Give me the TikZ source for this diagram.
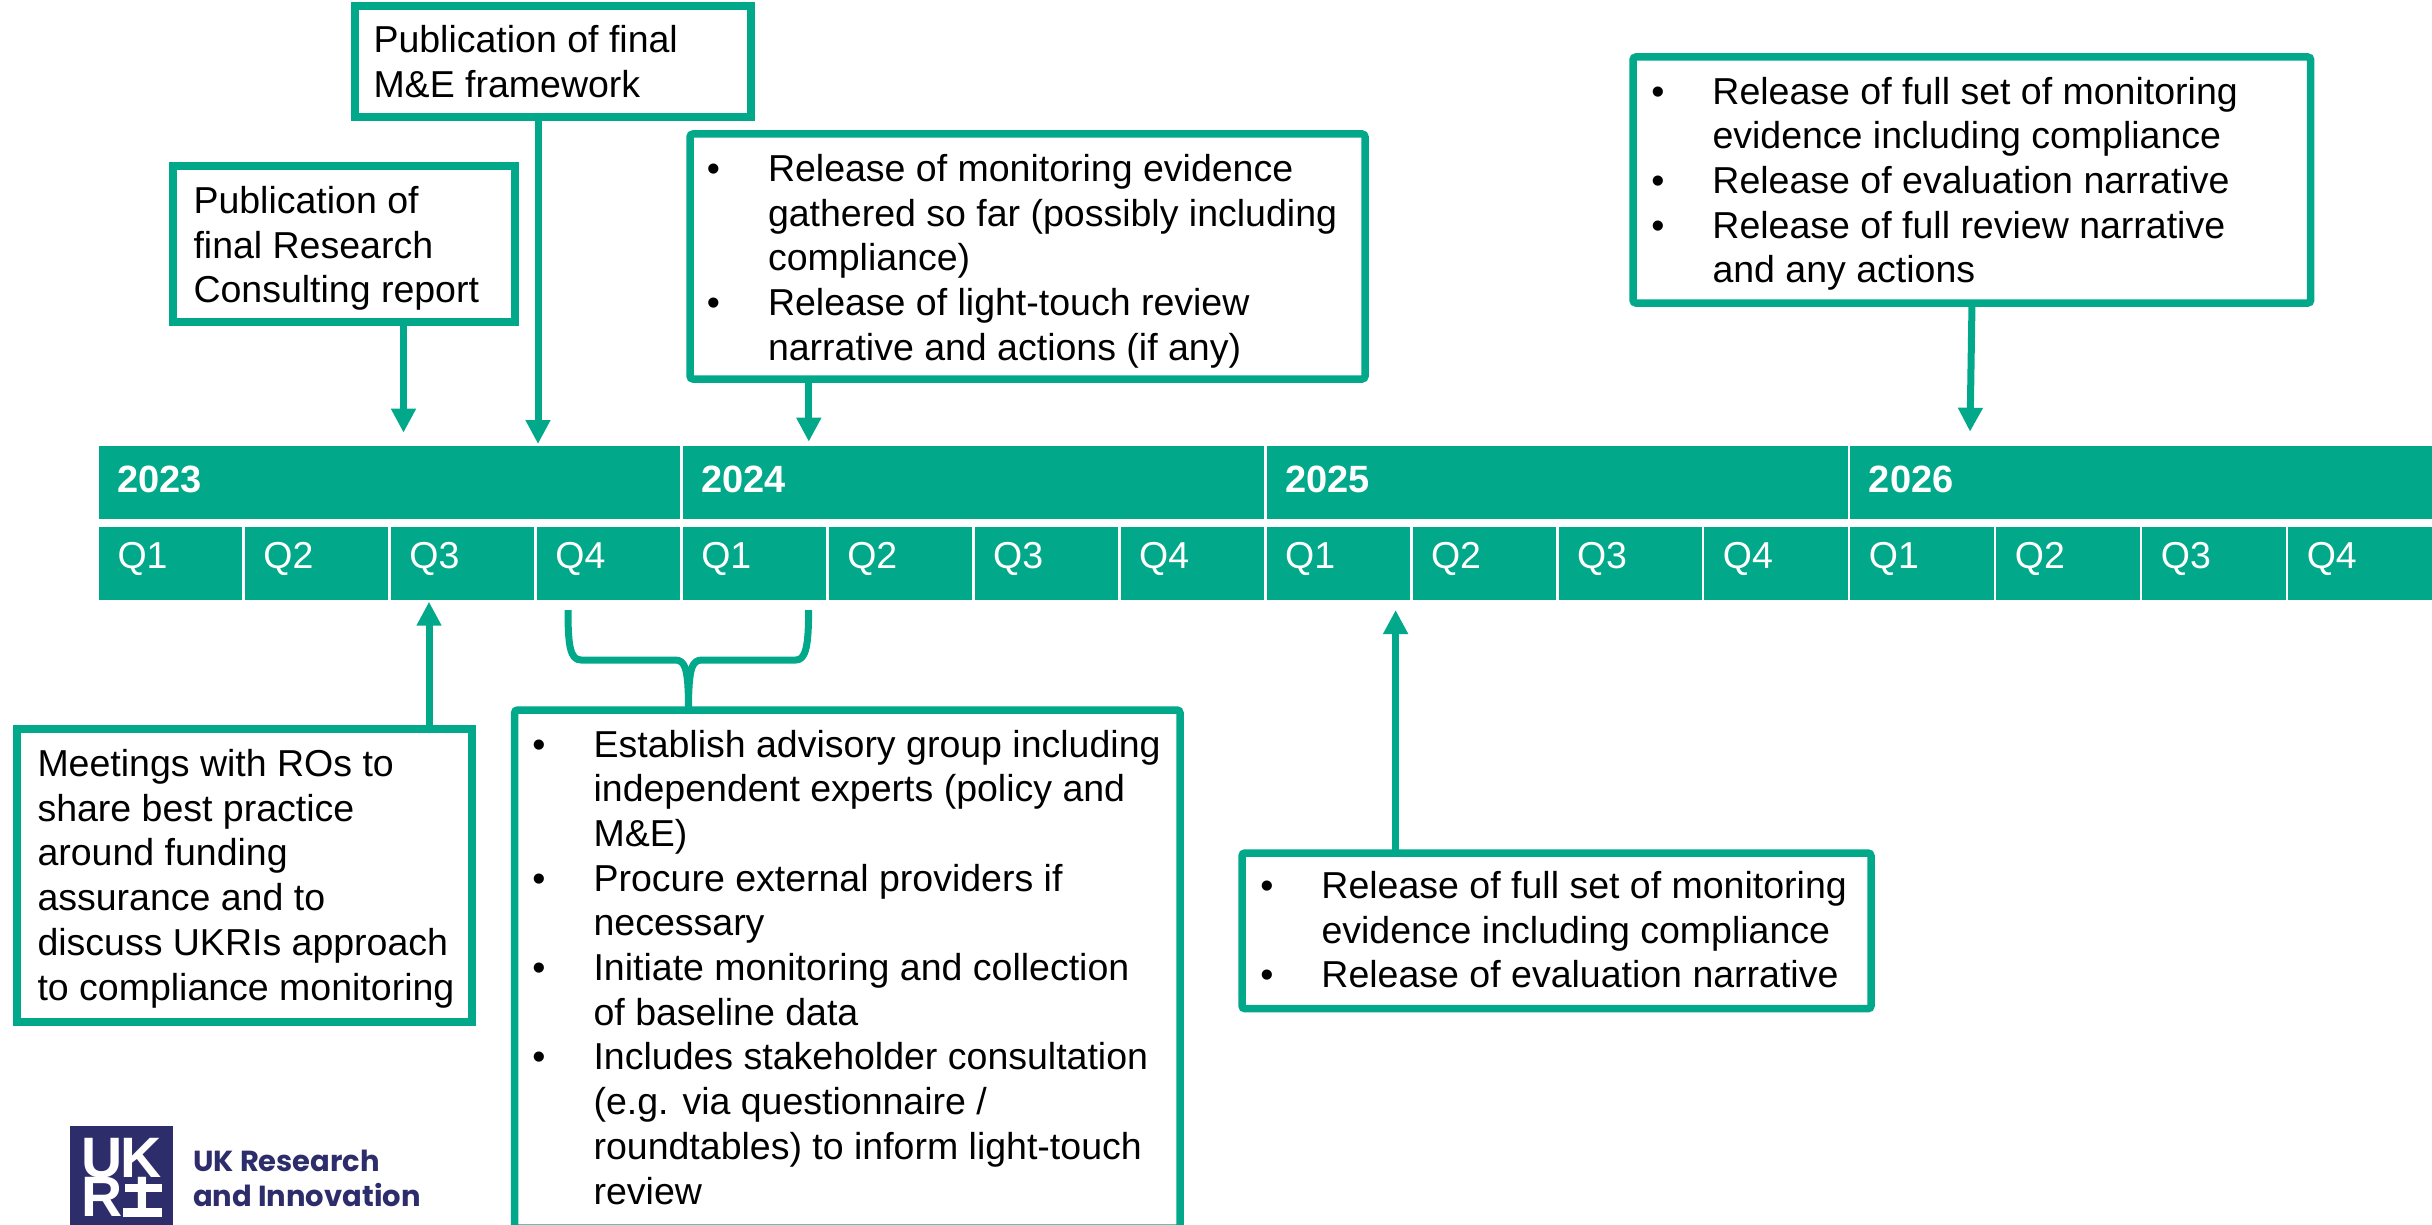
\documentclass[tikz,border=0pt]{standalone}
\usepackage{fontspec}
\setmainfont{Liberation Sans}
\newfontfamily\logofont{Poppins}
\usetikzlibrary{arrows.meta}
\definecolor{ukteal}{RGB}{2,168,138}
\definecolor{uknavy}{RGB}{46,45,107}
\newdimen\txdx
\newcommand{\tb}[5]{\vbox to #2pt{\hrule width #1pt height 0pt \kern\dimexpr #4pt-44.7pt\relax \prevdepth=0pt \baselineskip=44.7pt \lineskiplimit=-100pt \global\txdx=#3pt #5 \vss}}
\newcommand{\plainline}[1]{\hbox{\kern\txdx #1}}
\newcommand{\bulline}[1]{\hbox{\kern\txdx\llap{•\kern 48pt}#1}}
\tikzset{
  x=1pt,y=-1pt,
  bodytext/.style={font=\fontsize{37.5}{44.7}\selectfont,text=black},
  plainbox/.style={draw=ukteal,line width=8pt,fill=white,inner sep=0pt,outer sep=0pt,anchor=north west,bodytext},
  bulletbox/.style={plainbox,rounded corners=3pt,line width=7.5pt},
  yearcell/.style={fill=ukteal,inner sep=0pt,outer sep=0pt,anchor=north west,text=white,font=\fontsize{38}{44.7}\selectfont\bfseries},
  quartercell/.style={fill=ukteal,inner sep=0pt,outer sep=0pt,anchor=north west,text=white,font=\fontsize{37.5}{44.7}\selectfont},
  arrowline/.style={draw=ukteal,line width=7pt,-{Triangle[length=24pt,width=23.5pt]}},
  braceline/.style={draw=ukteal,line width=7pt,line join=round},
}
\begin{document}
\begin{tikzpicture}
\useasboundingbox (0,0) rectangle (2432,1225);
% timeline
\foreach \nm/\i/\lb in {y23/0/2023,y24/1/2024,y25/2/2025,y26/3/2026}
  \node[yearcell] (\nm) at ({99+583.8*\i},446) {\tb{581.4}{72.7}{18.5}{46}{\plainline{\lb}}};
\foreach \i/\lb in {0/Q1,1/Q2,2/Q3,3/Q4,4/Q1,5/Q2,6/Q3,7/Q4,8/Q1,9/Q2,10/Q3,11/Q4,12/Q1,13/Q2,14/Q3,15/Q4}
  \node[quartercell] (q\i) at ({99+145.95*\i},527) {\tb{143.4}{72.5}{18.5}{41}{\plainline{\lb}}};
% boxes
\node[plainbox] (mande) at (354.5,6) {\tb{396.5}{111}{19}{47}{%
  \plainline{Publication of final}\plainline{M\&E framework}}};
\node[plainbox] (rcreport) at (173,166) {\tb{341.6}{156}{20.5}{47.5}{%
  \plainline{Publication of}\plainline{final Research}\plainline{Consulting report}}};
\node[bulletbox] (rel24) at (690,134) {\tb{675}{245}{78}{47.5}{%
  \bulline{Release of monitoring evidence}\plainline{gathered so far (possibly including}\plainline{compliance)}%
  \bulline{Release of light-touch review}\plainline{narrative and actions (if any)}}};
\node[bulletbox] (rel26) at (1633,57) {\tb{677.7}{246}{79.5}{47}{%
  \bulline{Release of full set of monitoring}\plainline{evidence including compliance}%
  \bulline{Release of evaluation narrative}%
  \bulline{Release of full review narrative}\plainline{and any actions}}};
\node[plainbox] (meet) at (17,729) {\tb{454.5}{293}{20.5}{47.5}{%
  \plainline{Meetings with ROs to}\plainline{share best practice}\plainline{around funding}%
  \plainline{assurance and to}\plainline{discuss UKRIs approach}\plainline{to compliance monitoring}}};
\node[bulletbox] (setup) at (514.6,710) {\tb{665.4}{518}{79}{47}{%
  \bulline{Establish advisory group including}\plainline{independent experts (policy and}\plainline{M\&E)}%
  \bulline{Procure external providers if}\plainline{necessary}%
  \bulline{Initiate monitoring and collection}\plainline{of baseline data}%
  \bulline{Includes stakeholder consultation}\plainline{(e.g. via questionnaire /}\plainline{roundtables) to inform light-touch}\plainline{review}}};
\node[bulletbox] (rel25) at (1242,853) {\tb{629}{155.7}{79.5}{45.5}{%
  \bulline{Release of full set of monitoring}\plainline{evidence including compliance}%
  \bulline{Release of evaluation narrative}}};
% connector ends
\coordinate (trc) at (403.5,432.7);
\coordinate (tme) at (538,444);
\coordinate (t24) at (808.8,441.7);
\coordinate (t26) at (1970,431.7);
\coordinate (tmeet) at (429,601.7);
\coordinate (t25) at (1395.6,610);
\coordinate (s26) at (1972,303);
\draw[arrowline] (rcreport.south -| trc) -- (trc);
\draw[arrowline] (mande.south -| tme) -- (tme);
\draw[arrowline] (rel24.south -| t24) -- (t24);
\draw[arrowline] (s26) -- (t26);
\draw[arrowline] (meet.north -| tmeet) -- (tmeet);
\draw[arrowline] (rel25.north -| t25) -- (t25);
% brace
\coordinate (bl) at (568,610);
\coordinate (br) at (808.6,610);
\coordinate (bc) at (688.5,710);
\draw[braceline] (bl) .. controls (568,645) and (570,660) .. (581,660) -- (675,660)
  .. controls (685,660) and (688.5,668) .. (bc)
  .. controls (688.5,668) and (692,660) .. (702,660) -- (796,660)
  .. controls (806,660) and (808.6,645) .. (br);
% logo
\node[fill=uknavy,inner sep=0pt,outer sep=0pt,minimum width=102.7pt,minimum height=105pt,anchor=north west] (logosq) at (70,1126) {};
\node[inner sep=0pt,outer sep=0pt,anchor=north west,text=white,font=\fontsize{57}{39}\selectfont\bfseries] (logoletters) at (81,1138)
  {\vbox{\baselineskip=39pt \lineskiplimit=-100pt \hbox to 81pt{U\hss K}\hbox to 81pt{R\hss I\kern 12pt}}};
\fill[white] (125,1184) rectangle (162,1192);
\fill[white] (123,1208) rectangle (162,1217);
\node[inner sep=0pt,anchor=base west,text=uknavy,font=\logofont\fontsize{29}{34}\selectfont\bfseries] (logot1) at (193,1171.7) {UK Research};
\node[inner sep=0pt,anchor=base west,text=uknavy,font=\logofont\fontsize{29}{34}\selectfont\bfseries] (logot2) at (193,1206) {and Innovation};
\end{tikzpicture}
\end{document}
